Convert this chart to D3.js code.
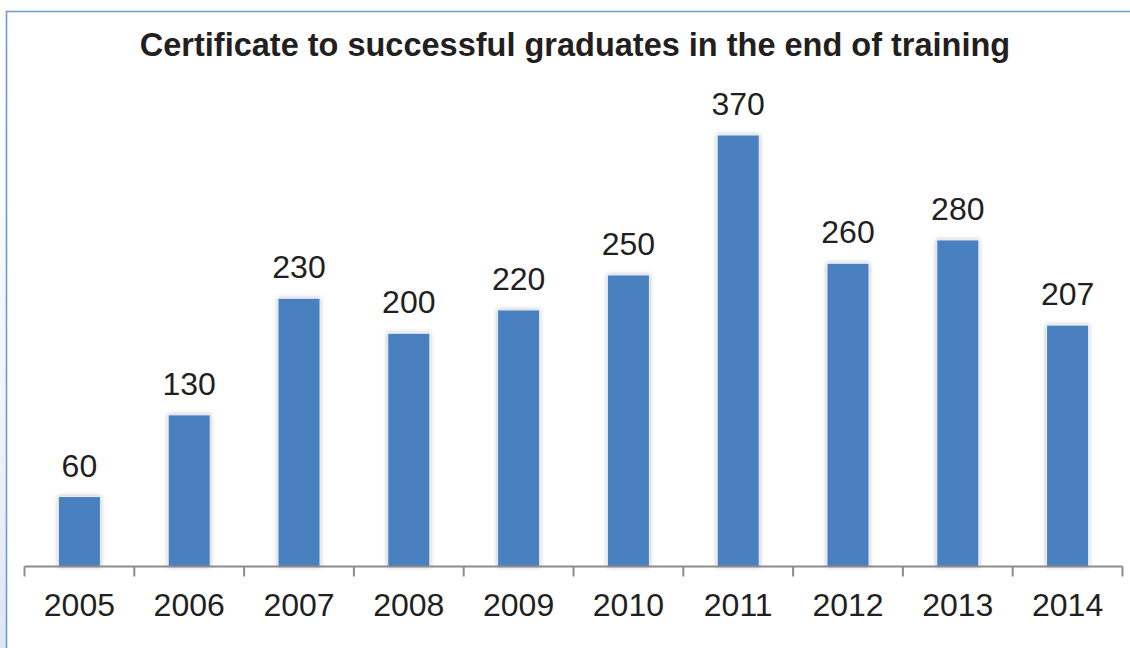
<!DOCTYPE html>
<html>
<head>
<meta charset="utf-8">
<script src="https://cdn.jsdelivr.net/npm/d3@7/dist/d3.min.js"></script>
<style>
  html, body { margin: 0; padding: 0; background: #ffffff; }
  svg { display: block; }
</style>
</head>
<body>
<svg id="chart" width="1130" height="648"></svg>
<script>
// Graduates receiving a certificate at the end of training, per year
const years = ["2005", "2006", "2007", "2008", "2009", "2010", "2011", "2012", "2013", "2014"];
const graduates = [60, 130, 230, 200, 220, 250, 370, 260, 280, 207];
const chartTitle = "Certificate to successful graduates in the end of training";

const svg = d3.select("#chart");
const W = 1130, H = 648;

const defs = svg.append("defs");

// faint blue wash along the left edge outside the frame
const edge = defs.append("linearGradient")
  .attr("id", "edgeWash").attr("x1", 0).attr("y1", 0).attr("x2", 0).attr("y2", 1);
edge.append("stop").attr("offset", "0%").attr("stop-color", "#ffffff");
edge.append("stop").attr("offset", "60%").attr("stop-color", "#f2f5fb");
edge.append("stop").attr("offset", "100%").attr("stop-color", "#dfe7f4");

// soft grey shadow around the bars
const shadow = defs.append("filter").attr("id", "barShadow")
  .attr("x", "-30%").attr("y", "-10%").attr("width", "160%").attr("height", "120%");
shadow.append("feGaussianBlur").attr("in", "SourceAlpha").attr("stdDeviation", 2.2).attr("result", "blur");
shadow.append("feFlood").attr("flood-color", "#000000").attr("flood-opacity", 0.28).attr("result", "col");
shadow.append("feComposite").attr("in", "col").attr("in2", "blur").attr("operator", "in").attr("result", "sh");
const merge = shadow.append("feMerge");
merge.append("feMergeNode").attr("in", "sh");
merge.append("feMergeNode").attr("in", "SourceGraphic");

svg.append("rect").attr("x", 0).attr("y", 0).attr("width", 6).attr("height", H)
  .attr("fill", "url(#edgeWash)");

// chart frame (top and left edges visible)
svg.append("path")
  .attr("d", `M6.5,${H} V11.5 H${W}`)
  .attr("fill", "none")
  .attr("stroke", "#6d9bd0")
  .attr("stroke-width", 1.6);

// title
svg.append("text")
  .attr("x", 575)
  .attr("y", 56)
  .attr("text-anchor", "middle")
  .attr("font-family", "'Liberation Sans', Arial, sans-serif")
  .attr("font-weight", "bold")
  .attr("font-size", 32.5)
  .attr("fill", "#231f20")
  .text(chartTitle);

// scales
const x = d3.scaleBand()
  .domain(years)
  .range([24.5, 1122.5])
  .paddingInner(0.617)
  .paddingOuter(0.3085);

const y = d3.scaleLinear()
  .domain([0, 400])
  .range([566.5, 100]);

const data = years.map((yr, i) => ({ year: yr, value: graduates[i] }));

// bars
svg.append("g")
  .selectAll("rect")
  .data(data)
  .join("rect")
  .attr("x", d => x(d.year))
  .attr("y", d => y(d.value))
  .attr("width", x.bandwidth())
  .attr("height", d => y(0) - y(d.value))
  .attr("fill", "#4a80c0")
  .attr("stroke", "#e8eef7")
  .attr("stroke-width", 1)
  .attr("filter", "url(#barShadow)");

// value labels
svg.append("g")
  .selectAll("text")
  .data(data)
  .join("text")
  .attr("x", d => x(d.year) + x.bandwidth() / 2)
  .attr("y", d => y(d.value) - 20)
  .attr("text-anchor", "middle")
  .attr("font-family", "'Liberation Sans', Arial, sans-serif")
  .attr("font-size", 32)
  .attr("fill", "#231f20")
  .text(d => d.value);

// category axis with ticks at the band boundaries
const axisG = svg.append("g").attr("transform", `translate(0,${y(0)})`);
const step = x.step();
const start = x.range()[0];
const bounds = d3.range(years.length + 1).map(i => start + i * step);

axisG.append("line")
  .attr("x1", start).attr("x2", x.range()[1])
  .attr("y1", 0).attr("y2", 0)
  .attr("stroke", "#8c8c8c").attr("stroke-width", 2);

axisG.selectAll("line.tick")
  .data(bounds)
  .join("line")
  .attr("class", "tick")
  .attr("x1", d => d).attr("x2", d => d)
  .attr("y1", 0).attr("y2", 10)
  .attr("stroke", "#8c8c8c").attr("stroke-width", 2);

axisG.selectAll("text")
  .data(years)
  .join("text")
  .attr("x", d => x(d) + x.bandwidth() / 2)
  .attr("y", 49.5)
  .attr("text-anchor", "middle")
  .attr("font-family", "'Liberation Sans', Arial, sans-serif")
  .attr("font-size", 32)
  .attr("fill", "#231f20")
  .text(d => d);
</script>
</body>
</html>
